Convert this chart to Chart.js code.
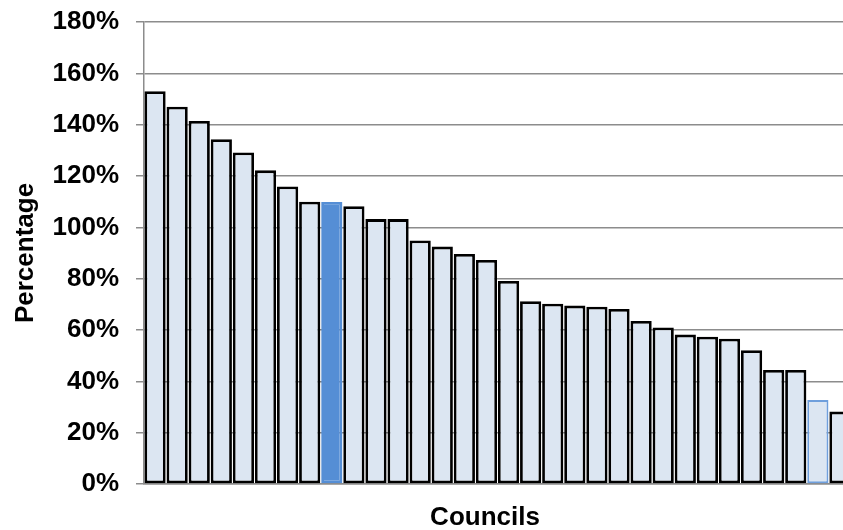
<!DOCTYPE html>
<html>
<head>
<meta charset="utf-8">
<script src="https://cdn.jsdelivr.net/npm/chart.js@4/dist/chart.umd.min.js"></script>
<style>
  html, body { margin: 0; padding: 0; background: #fff; overflow: hidden; }
  #wrap { width: 843px; height: 530px; overflow: hidden; }
  canvas { display: block; }
</style>
</head>
<body>
<div id="wrap"><canvas id="c" width="860" height="530"></canvas></div>
<script>
// ---- data ----
const categories = ['1','2','3','4','5','6','7','8','9','10','11','12','13','14','15','16',
                    '17','18','19','20','21','22','23','24','25','26','27','28','29','30','31','32'];
const percentages = [153, 147, 141.4, 134.3, 129.2, 122.2, 115.9, 110, 109.9, 108.2, 103.2, 103.2,
                     94.9, 92.5, 89.6, 87.3, 79.1, 71.2, 70.2, 69.5, 69.1, 68.2, 63.5, 61.0,
                     58.2, 57.4, 56.6, 52.1, 44.4, 44.4, 32.7, 28.2];
const yTickValues = [0, 20, 40, 60, 80, 100, 120, 140, 160, 180];
const xTitle = 'Councils';
const yTitle = 'Percentage';
const highlightIndex = 8;   // solid blue bar
const outlinedIndex = 30;   // blue-outlined bar

const FONT = "'Liberation Sans', Arial, sans-serif";
const lightFill = '#dce6f2';
const blue = '#558ed5';

// x-axis title, drawn by the chart itself below the plot
const xTitlePlugin = {
  id: 'xTitle',
  afterDraw(chart) {
    const ctx = chart.ctx;
    ctx.save();
    ctx.font = 'bold 26px ' + FONT;
    ctx.fillStyle = '#000';
    ctx.textAlign = 'center';
    ctx.textBaseline = 'middle';
    ctx.fillText(xTitle, 485, 518);
    ctx.restore();
  }
};

new Chart(document.getElementById('c'), {
  type: 'bar',
  data: {
    labels: categories,
    datasets: [{
      data: percentages,
      backgroundColor: ctx => ctx.dataIndex === highlightIndex ? blue : lightFill,
      borderColor: ctx => ctx.dataIndex === highlightIndex ? blue
                         : (ctx.dataIndex === outlinedIndex ? '#6f9fdc' : '#000000'),
      borderWidth: ctx => ctx.dataIndex === outlinedIndex ? 2 : 2.8,
      borderSkipped: false,
      barPercentage: 0.96,
      categoryPercentage: 1.0
    }]
  },
  plugins: [xTitlePlugin],
  options: {
    responsive: false,
    animation: false,
    devicePixelRatio: 1,
    layout: { padding: { top: 22, right: 9, bottom: 0, left: 0 } },
    plugins: {
      legend: { display: false },
      tooltip: { enabled: false },
      title: { display: false }
    },
    scales: {
      x: {
        ticks: { display: false },
        grid: { display: false },
        border: { display: true, color: '#8c8c8c', width: 1.5 },
        afterFit: s => { s.height = 46; }
      },
      y: {
        min: 0,
        max: 180,
        afterBuildTicks: s => { s.ticks = yTickValues.map(v => ({ value: v })); },
        ticks: {
          color: '#000',
          padding: 17,
          font: { family: FONT, size: 26, weight: 'bold', lineHeight: 0.38 },
          callback: v => v + '%'
        },
        grid: { color: '#8c8c8c', lineWidth: 1.5, tickLength: 8, tickColor: '#8c8c8c', drawTicks: true },
        border: { display: true, color: '#8c8c8c', width: 1.5 },
        title: {
          display: true,
          text: yTitle,
          color: '#000',
          padding: { top: 14, bottom: 0 },
          font: { family: FONT, size: 26, weight: 'bold', lineHeight: 0.9 }
        },
        afterFit: s => { s.width = 144; }
      }
    }
  }
});
</script>
</body>
</html>
